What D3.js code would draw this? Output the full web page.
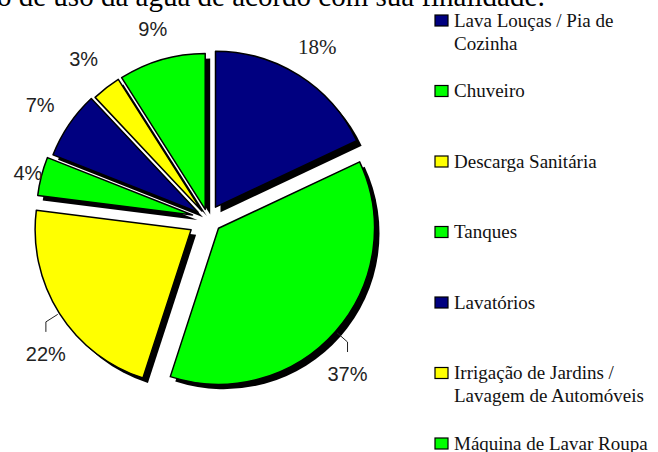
<!DOCTYPE html>
<html lang="pt">
<head>
  <meta charset="UTF-8">
  <title>Consumo de água por finalidade</title>
  <style>
    body { margin: 0; background: #fff; }
    svg { display: block; }
  </style>
</head>
<body>
  <svg id="chart" width="658" height="452"></svg>

  <script src="https://d3js.org/d3.v7.min.js"></script>
  <script>
    // data
    const categories = [
      ["Lava Louças / Pia de", "Cozinha"],
      ["Chuveiro"],
      ["Descarga Sanitária"],
      ["Tanques"],
      ["Lavatórios"],
      ["Irrigação de Jardins /", "Lavagem de Automóveis"],
      ["Máquina de Lavar Roupa"]
    ];
    const values = [18, 37, 22, 4, 7, 3, 9];
    const labels = ["18%", "37%", "22%", "4%", "7%", "3%", "9%"];
    const title = "o de uso da água de acordo com sua finalidade:";

    // styling
    const colors = ["#000080", "#00ff00", "#ffff00", "#00ff00", "#000080", "#ffff00", "#00ff00"];
    const explode = [14, 14, 20, 16, 12, 10, 10];
    const labelRadius = [190, 0, 0, 170, 191, 193, 188];
    const hasLeader = [false, true, true, false, false, false, false];
    const labelSerif = [true, false, false, false, false, false, false];

    const cx = 208, cy = 219, R = 156;
    const svg = d3.select("#chart");

    // title, cut off by the top edge like in the source
    svg.append("text")
      .attr("x", -3)
      .attr("y", 6)
      .attr("font-family", "Liberation Serif, serif")
      .attr("font-size", 29)
      .attr("fill", "#000")
      .text(title);

    const pie = d3.pie().sort(null).value(d => d)(values);
    const arc = d3.arc().innerRadius(0).outerRadius(R);

    // direction of the middle of a slice (0 = up, clockwise)
    const dir = d => {
      const a = (d.startAngle + d.endAngle) / 2;
      return [Math.sin(a), -Math.cos(a)];
    };
    const apex = (d, i) => {
      const [dx, dy] = dir(d);
      return [cx + dx * explode[i], cy + dy * explode[i]];
    };

    const g = svg.append("g");

    // shadows first
    g.selectAll("path.shadow")
      .data(pie)
      .join("path")
      .attr("class", "shadow")
      .attr("d", arc)
      .attr("fill", "#000")
      .attr("transform", (d, i) => {
        const [x, y] = apex(d, i);
        return `translate(${x + 5},${y + 5})`;
      });

    g.selectAll("path.slice")
      .data(pie)
      .join("path")
      .attr("class", "slice")
      .attr("d", arc)
      .attr("fill", (d, i) => colors[i])
      .attr("stroke", "#000")
      .attr("stroke-width", 1.5)
      .attr("stroke-linejoin", "round")
      .attr("transform", (d, i) => {
        const [x, y] = apex(d, i);
        return `translate(${x},${y})`;
      });

    // percentage labels
    pie.forEach((d, i) => {
      const [ax, ay] = apex(d, i);
      const [dx, dy] = dir(d);
      let lx, ly;
      if (hasLeader[i]) {
        const p1 = [ax + dx * (R + 2), ay + dy * (R + 2)];
        const p2 = [ax + dx * (R + 16), ay + dy * (R + 16)];
        const p3 = [p2[0], p2[1] + 10];
        svg.append("path")
          .attr("d", d3.line()([p1, p2, p3]))
          .attr("fill", "none")
          .attr("stroke", "#222")
          .attr("stroke-width", 1);
        lx = p3[0];
        ly = p3[1] + 22;
      } else {
        lx = ax + dx * labelRadius[i];
        ly = ay + dy * labelRadius[i];
      }
      svg.append("text")
        .attr("x", lx)
        .attr("y", ly)
        .attr("dy", "0.35em")
        .attr("text-anchor", "middle")
        .attr("font-family", labelSerif[i] ? "Liberation Serif, serif" : "Liberation Sans, sans-serif")
        .attr("font-size", labelSerif[i] ? 21 : 20)
        .attr("fill", "#222")
        .text(labels[i]);
    });

    // legend
    const legend = svg.append("g").attr("transform", "translate(435,0)");
    const ly = d3.scaleLinear().domain([0, categories.length - 1]).range([20.5, 443.5]);

    categories.forEach((lines, i) => {
      const y = ly(i);
      legend.append("rect")
        .attr("x", 0)
        .attr("y", y - 5.5)
        .attr("width", 13)
        .attr("height", 11)
        .attr("fill", colors[i])
        .attr("stroke", "#000")
        .attr("stroke-width", 1.2);
      const t = legend.append("text")
        .attr("x", 19)
        .attr("y", y + 6)
        .attr("font-family", "Liberation Serif, serif")
        .attr("font-size", 19)
        .attr("fill", "#111");
      lines.forEach((s, k) => {
        t.append("tspan")
          .attr("x", 19)
          .attr("dy", k === 0 ? 0 : 23)
          .text(s);
      });
    });
  </script>
</body>
</html>
